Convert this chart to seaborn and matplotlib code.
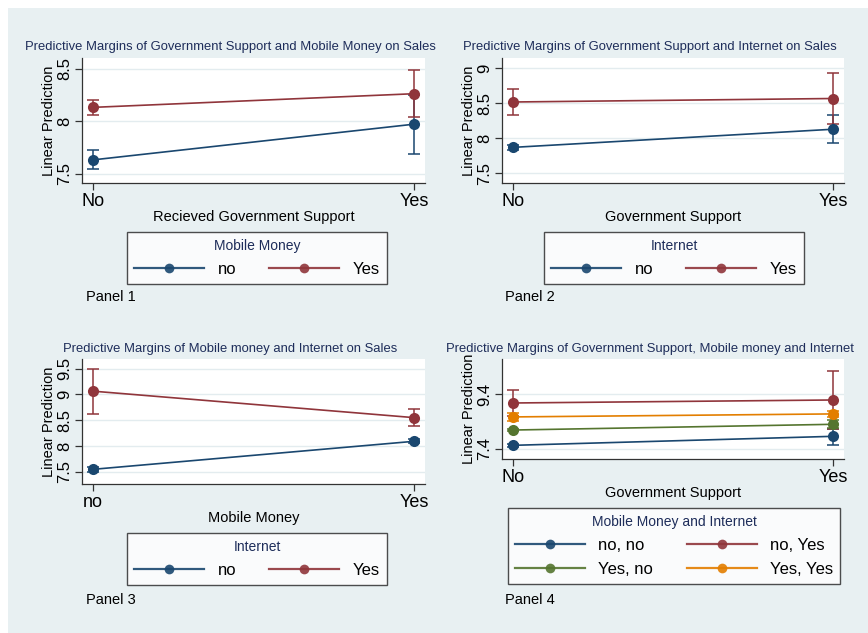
"""
Predictive margins of sales: four panels in Stata-like s2color style.
"""

import numpy as np
import pandas as pd
import matplotlib
matplotlib.use("Agg")
import matplotlib.pyplot as plt
from matplotlib.lines import Line2D
import seaborn as sns

# ---- data ----
x_pos = [0, 1]

# Panel 1: government support x mobile money
p1_ticks = ["No", "Yes"]
p1_groups = ["no", "Yes"]
p1_mean = [[7.63, 7.97], [8.13, 8.26]]
p1_lo = [[7.54, 7.69], [8.06, 8.04]]
p1_hi = [[7.72, 8.25], [8.20, 8.49]]

# Panel 2: government support x internet
p2_ticks = ["No", "Yes"]
p2_groups = ["no", "Yes"]
p2_mean = [[7.87, 8.13], [8.52, 8.57]]
p2_lo = [[7.83, 7.93], [8.33, 8.21]]
p2_hi = [[7.91, 8.33], [8.71, 8.93]]

# Panel 3: mobile money x internet
p3_ticks = ["no", "Yes"]
p3_groups = ["no", "Yes"]
p3_mean = [[7.545, 8.09], [9.065, 8.55]]
p3_lo = [[7.49, 8.05], [8.63, 8.38]]
p3_hi = [[7.60, 8.13], [9.49, 8.71]]

# Panel 4: government support x (mobile money, internet)
p4_ticks = ["No", "Yes"]
p4_groups = ["no, no", "no, Yes", "Yes, no", "Yes, Yes"]
p4_mean = [[7.52, 7.85], [9.07, 9.18], [8.08, 8.29], [8.56, 8.67]]
p4_lo = [[7.47, 7.55], [8.60, 8.13], [8.03, 8.14], [8.40, 8.55]]
p4_hi = [[7.57, 8.13], [9.53, 10.23], [8.13, 8.44], [8.72, 8.79]]

COLORS = ["#1a476f", "#90353b", "#55752f", "#e37e00"]
BG = "#e8f0f2"
NAVY = "#1e2d5a"

plt.rcParams["font.family"] = ["Liberation Sans", "DejaVu Sans"]

fig = plt.figure(figsize=(8.68, 6.33), dpi=100)
fig.patch.set_facecolor("white")
# light bluish graph region (white strip at top/left like the original)
fig.patches.append(plt.Rectangle((8 / 868, 0), 1, 1 - 8 / 633, transform=fig.transFigure,
                                 facecolor=BG, edgecolor="none", zorder=-10))


def px(x, y):
    return x / 868, 1 - y / 633


def draw_panel(rect, ticks, groups, mean, lo, hi, ylim, yticks, ytlabels,
               title, title_xy, xlabel, legend_title, legend_xy, panel_txt, panel_xy,
               ncol=2):
    l, t, r, b = rect
    ax = fig.add_axes([l / 868, 1 - b / 633, (r - l) / 868, (b - t) / 633])
    ax.set_facecolor("white")

    rows = []
    for g, name in enumerate(groups):
        for i, xv in enumerate(x_pos):
            rows.append({"x": xv, "y": mean[g][i], "grp": name})
    df = pd.DataFrame(rows)
    pal = dict(zip(groups, COLORS[:len(groups)]))

    for g, name in enumerate(groups):
        m = np.array(mean[g])
        ax.errorbar(x_pos, m, yerr=[m - np.array(lo[g]), np.array(hi[g]) - m],
                    fmt="none", ecolor=COLORS[g], elinewidth=1.1, capsize=4,
                    capthick=1.1, zorder=2)
    sns.lineplot(data=df, x="x", y="y", hue="grp", palette=pal, marker="o",
                 markersize=8, markeredgewidth=0, linewidth=1.2, legend=False,
                 ax=ax, zorder=3)

    ax.set_xlim(-0.034, 1.034)
    ax.set_ylim(*ylim)
    ax.set_xticks(x_pos)
    ax.set_xticklabels(ticks, fontsize=13)
    ax.set_yticks(yticks)
    ax.set_yticklabels(ytlabels, fontsize=12, rotation=90, va="center")
    ax.tick_params(axis="both", direction="out", length=5, width=0.9, color="#333333", pad=2)
    ax.grid(axis="y", color="#e3ecef", linewidth=1.0)
    ax.grid(axis="x", visible=False)
    for side in ["top", "right"]:
        ax.spines[side].set_visible(False)
    for side in ["left", "bottom"]:
        ax.spines[side].set_color("#333333")
        ax.spines[side].set_linewidth(0.9)
    ax.set_xlabel(xlabel, fontsize=10.5, labelpad=0)
    ax.set_ylabel("Linear Prediction", fontsize=10.5, labelpad=1)

    fig.text(*px(*title_xy), title, fontsize=9.4, color=NAVY, ha="center", va="center")

    handles = [Line2D([], [], color=COLORS[g], marker="o", markersize=7,
                      markeredgewidth=0, linewidth=1.6, alpha=0.9)
               for g in range(len(groups))]
    labels = list(groups)
    if len(groups) == 4:
        # Stata fills legend rows first; matplotlib fills columns first
        order = [0, 2, 1, 3]
        handles = [handles[i] for i in order]
        labels = [labels[i] for i in order]
    leg = ax.legend(handles, labels, title=legend_title, ncol=ncol, loc="center",
                    bbox_to_anchor=px(*legend_xy), bbox_transform=fig.transFigure,
                    fontsize=12, title_fontsize=10, frameon=True, fancybox=False,
                    edgecolor="#222222", handlelength=4.2, columnspacing=2.0,
                    handletextpad=0.8, borderpad=0.4, labelspacing=0.55)
    leg.get_title().set_color(NAVY)
    leg.get_frame().set_linewidth(1.0)
    fig.text(*px(*panel_xy), panel_txt, fontsize=10.5, ha="left", va="center")
    return ax


draw_panel((82, 58, 425, 183), p1_ticks, p1_groups, p1_mean, p1_lo, p1_hi,
           (7.41, 8.6), [7.5, 8, 8.5], ["7.5", "8", "8.5"],
           "Predictive Margins of Government Support and Mobile Money on Sales", (230, 47),
           "Recieved Government Support", "Mobile Money", (257, 258), "Panel 1", (86, 297))

draw_panel((502, 58, 844, 183), p2_ticks, p2_groups, p2_mean, p2_lo, p2_hi,
           (7.36, 9.15), [7.5, 8, 8.5, 9], ["7.5", "8", "8.5", "9"],
           "Predictive Margins of Government Support and Internet on Sales", (650, 47),
           "Government Support", "Internet", (674, 258), "Panel 2", (505, 297))

draw_panel((82, 359, 425, 484), p3_ticks, p3_groups, p3_mean, p3_lo, p3_hi,
           (7.26, 9.69), [7.5, 8, 8.5, 9, 9.5], ["7.5", "8", "8.5", "9", "9.5"],
           "Predictive Margins of Mobile money and Internet on Sales", (230, 349),
           "Mobile Money", "Internet", (257, 559), "Panel 3", (86, 600))

draw_panel((502, 359, 844, 459), p4_ticks, p4_groups, p4_mean, p4_lo, p4_hi,
           (7.02, 10.68), [7.4, 9.4], ["7.4", "9.4"],
           "Predictive Margins of Government Support, Mobile money and Internet", (650, 349),
           "Government Support", "Mobile Money and Internet", (674, 546), "Panel 4", (505, 600))

plt.savefig("out.png", dpi=100)
plt.close()
